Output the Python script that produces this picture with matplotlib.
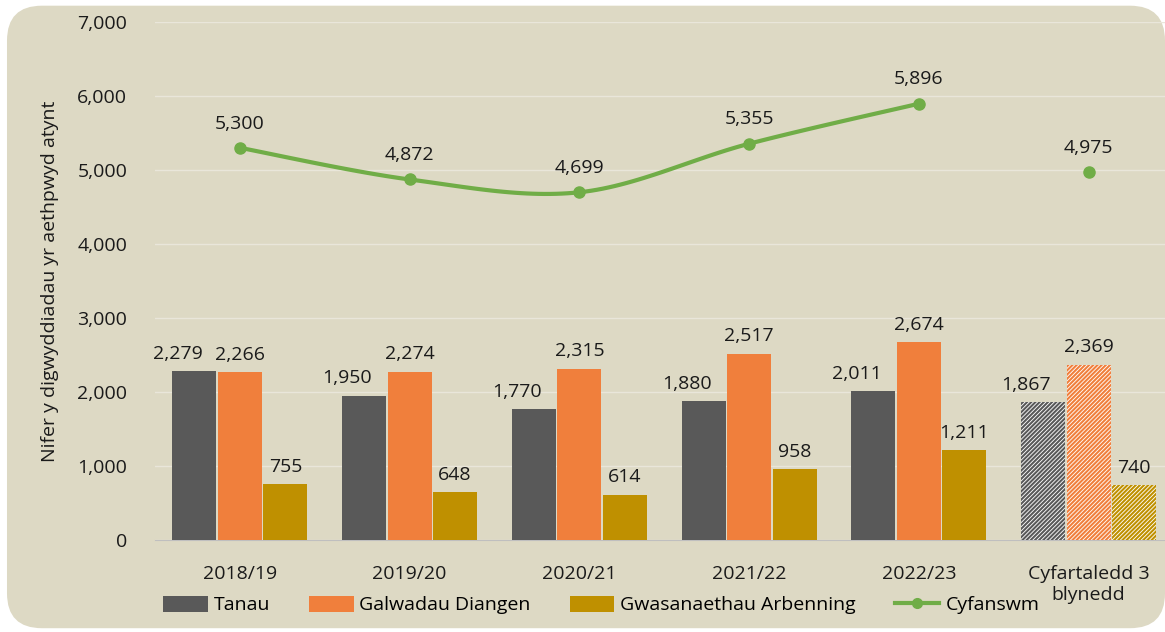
import numpy as np
import matplotlib
matplotlib.use("Agg")
import matplotlib.pyplot as plt
from matplotlib.patches import FancyBboxPatch, Patch
from matplotlib.lines import Line2D
from matplotlib.ticker import FuncFormatter

categories = ["2018/19", "2019/20", "2020/21", "2021/22", "2022/23", "Cyfartaledd 3\nblynedd"]
tanau = [2279, 1950, 1770, 1880, 2011, 1867]
galwadau = [2266, 2274, 2315, 2517, 2674, 2369]
gwasanaethau = [755, 648, 614, 958, 1211, 740]
cyfanswm = [5300, 4872, 4699, 5355, 5896, 4975]
series_names = ["Tanau", "Galwadau Diangen", "Gwasanaethau Arbenning", "Cyfanswm"]
colors = ["#595959", "#F07F3C", "#BF9000"]
line_color = "#70AD47"
bg = "#DDD9C4"
FS = 14

plt.rcParams["font.family"] = ["Open Sans", "DejaVu Sans"]
plt.rcParams["hatch.linewidth"] = 1.5

fig = plt.figure(figsize=(11.65, 6.32), dpi=100)
fig.patch.set_facecolor("white")
fig.patches.append(FancyBboxPatch((0.006, 0.006), 0.994, 0.985, boxstyle="round,pad=0,rounding_size=0.03",
                                  transform=fig.transFigure, facecolor=bg, edgecolor="none", zorder=-10,
                                  mutation_aspect=1165/632))
ax = fig.add_axes([155/1165, 1 - 540/632, 1010/1165, 518/632])
ax.set_facecolor("none")

x = np.arange(len(categories))
w = 0.26
n_years = 5
for i, (vals, c) in enumerate(zip([tanau, galwadau, gwasanaethau], colors)):
    xs = x + (i - 1) * (w + 0.008)
    ax.bar(xs[:n_years], vals[:n_years], w, color=c, zorder=3)
    ax.bar(xs[n_years:], vals[n_years:], w, facecolor="white", edgecolor=c, hatch="////////",
           linewidth=0, zorder=3)
    dx = -12 if i == 0 else 0
    for xx, v in zip(xs, vals):
        ax.annotate(f"{v:,}", (xx, v), xytext=(dx, 6), textcoords="offset points",
                    ha="center", va="bottom", fontsize=FS, color="#1a1a1a", zorder=5)

# smoothed total line over the five years (Catmull-Rom for drawing only)
px = x[:n_years].astype(float)
py = np.array(cyfanswm[:n_years], dtype=float)
P = np.vstack([px, py]).T
P = np.vstack([P[0], P, P[-1]])
curve = []
for k in range(1, len(P) - 2):
    p0, p1, p2, p3 = P[k - 1], P[k], P[k + 1], P[k + 2]
    for t in np.linspace(0, 1, 30):
        curve.append(0.5 * ((2 * p1) + (-p0 + p2) * t + (2 * p0 - 5 * p1 + 4 * p2 - p3) * t ** 2
                            + (-p0 + 3 * p1 - 3 * p2 + p3) * t ** 3))
curve = np.array(curve)
ax.plot(curve[:, 0], curve[:, 1], color=line_color, lw=3, zorder=4, solid_capstyle="round")
ax.plot(x, cyfanswm, "o", color=line_color, ms=8, zorder=4)
for xx, v in zip(x, cyfanswm):
    ax.annotate(f"{v:,}", (xx, v), xytext=(0, 11), textcoords="offset points",
                ha="center", va="bottom", fontsize=FS, color="#1a1a1a", zorder=5)

ax.set_ylim(0, 7000)
ax.set_xlim(-0.5, 5.45)
ax.set_yticks(range(0, 7001, 1000))
ax.yaxis.set_major_formatter(FuncFormatter(lambda v, p: f"{int(v):,}"))
ax.set_xticks(x)
ax.set_xticklabels(categories)
ax.tick_params(axis="both", length=0, labelsize=FS, colors="#1a1a1a")
ax.tick_params(axis="y", pad=20)
ax.tick_params(axis="x", pad=18)
ax.grid(axis="y", color="#E9E6DA", lw=1, zorder=0)
for s in ["top", "right", "left"]:
    ax.spines[s].set_visible(False)
ax.spines["bottom"].set_color("#BFBFBF")
ax.set_ylabel("Nifer y digwyddiadau yr aethpwyd atynt", fontsize=FS, color="#1a1a1a")
ax.yaxis.set_label_coords(-0.095, 0.5)

handles = [Patch(facecolor=c, edgecolor="none") for c in colors]
handles.append(Line2D([0], [0], color=line_color, lw=3, marker="o", ms=7))
fig.legend(handles, series_names, loc="center", bbox_to_anchor=(0.516, 1 - 605 / 632), ncol=4,
           frameon=False, fontsize=FS, handlelength=2.3, handleheight=0.9, columnspacing=2.0,
           handletextpad=0.3)

fig.savefig("out.png", dpi=100)
